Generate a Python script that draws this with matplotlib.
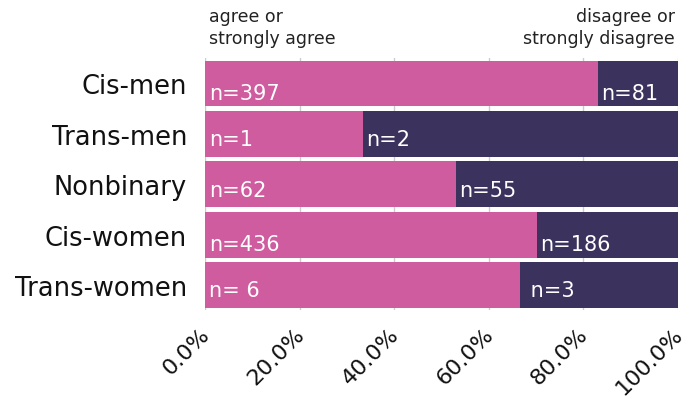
import numpy as np
import matplotlib.pyplot as plt
from matplotlib.ticker import FuncFormatter

# data
groups = ["Cis-men", "Trans-men", "Nonbinary", "Cis-women", "Trans-women"]
agree_n = [397, 1, 62, 436, 6]
disagree_n = [81, 2, 55, 186, 3]
agree_labels = ["n=397", "n=1", "n=62", "n=436", "n= 6"]
disagree_labels = ["n=81", "n=2", "n=55", "n=186", " n=3"]
xticks = [0, 20, 40, 60, 80, 100]

PINK = "#cf5c9e"
DARK = "#3c325e"

plt.rcParams["font.family"] = ["DejaVu Sans"]

agree = np.array(agree_n, dtype=float)
disagree = np.array(disagree_n, dtype=float)
total = agree + disagree
agree_pct = agree / total * 100
disagree_pct = disagree / total * 100

fig = plt.figure(figsize=(6.91, 4.06), dpi=100)
ax = fig.add_axes([0.297, 0.2335, 0.684, 0.6205])

y = np.arange(len(groups))
ax.barh(y, agree_pct, height=0.91, color=PINK, zorder=2)
ax.barh(y, disagree_pct, left=agree_pct, height=0.91, color=DARK, zorder=2)

# small nudge so text sits in lower half of each bar
nudge = [0.31, 0.22, 0.23, 0.31, 0.22]
for i in range(len(groups)):
    ax.text(0.8, y[i] + nudge[i], agree_labels[i], color="white",
            fontsize=15, va="baseline", ha="left", zorder=3)
    ax.text(agree_pct[i] + 0.8, y[i] + nudge[i], disagree_labels[i], color="white",
            fontsize=15, va="baseline", ha="left", zorder=3)

ax.set_xlim(0, 100)
ax.set_ylim(len(groups) - 0.5, -0.5)
ax.set_yticks(y)
ax.set_yticklabels(groups, fontsize=18.5, color="#111111")
ax.set_xticks(xticks)
ax.xaxis.set_major_formatter(FuncFormatter(lambda v, p: f"{v:.1f}%"))
for lab in ax.get_xticklabels():
    lab.set_rotation(45)
    lab.set_rotation_mode("anchor")
    lab.set_ha("right")
    lab.set_va("center_baseline")
    lab.set_fontsize(16)
    lab.set_color("#111111")
ax.tick_params(axis="both", length=0)
ax.tick_params(axis="y", pad=13)
ax.tick_params(axis="x", pad=14)
ax.grid(axis="x", color="#cccccc", linewidth=1, zorder=0)
for s in ax.spines.values():
    s.set_visible(False)

fig.text(209 / 691, 1 - 8 / 406, "agree or\nstrongly agree", fontsize=12.5,
         ha="left", va="top", color="#222222", linespacing=1.3)
fig.text(675 / 691, 1 - 8 / 406, "disagree or\nstrongly disagree", fontsize=12.5,
         ha="right", va="top", color="#222222", linespacing=1.3, multialignment="right")

fig.savefig("out.png", dpi=100)
